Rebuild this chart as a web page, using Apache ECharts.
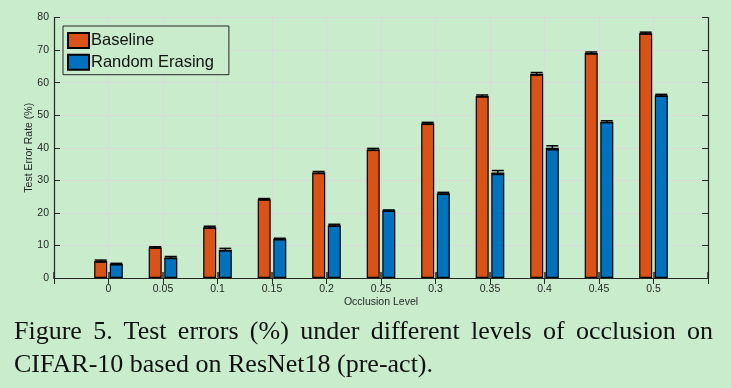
<!DOCTYPE html>
<html><head><meta charset="utf-8">
<script src="https://cdn.jsdelivr.net/npm/echarts@6/dist/echarts.min.js"></script>
<style>
html,body{margin:0;padding:0;background:#c9eccd;}
#c{width:731px;height:388px;position:absolute;left:0;top:0;}
#cap{position:absolute;left:14px;top:314px;width:699px;font-family:"Liberation Serif","DejaVu Serif",serif;font-size:26px;line-height:33px;color:#111;text-align:justify;}
</style></head>
<body>
<div id="c"></div>
<div id="cap">Figure 5. Test errors (%) under different levels of occlusion on CIFAR-10 based on ResNet18 (pre-act).</div>
<script>
const categories = ['0','0.05','0.1','0.15','0.2','0.25','0.3','0.35','0.4','0.45','0.5'];
const baseline = [5.2, 9.4, 15.6, 24.2, 32.4, 39.5, 47.5, 55.9, 62.7, 69.1, 75.2];
const baselineErr = [0.3, 0.2, 0.3, 0.2, 0.3, 0.3, 0.3, 0.3, 0.4, 0.3, 0.3];
const randomErasing = [4.3, 6.3, 8.7, 12.0, 16.2, 20.7, 26.0, 32.4, 40.0, 48.0, 56.1];
const randomErasingErr = [0.2, 0.3, 0.4, 0.2, 0.3, 0.2, 0.3, 0.6, 0.6, 0.3, 0.3];
const yTicks = [0,10,20,30,40,50,60,70,80];

const cats = [''].concat(categories).concat(['']);
const pad = a => ['-'].concat(a).concat(['-']);
const BW = 13, OFF = 7.8;
function errItem(off){
  return function(params, api){
    const i = api.value(0), v = api.value(1), e = api.value(2);
    const c = api.coord([i, v]);
    const hi = api.coord([i, v + e])[1], lo = api.coord([i, v - e])[1];
    const x = c[0] + off, hw = BW/2 - 0.5;
    const st = {stroke:'#000', lineWidth:1.5};
    return {type:'group', children:[
      {type:'line', shape:{x1:x,y1:hi,x2:x,y2:lo}, style:st},
      {type:'line', shape:{x1:x-hw,y1:hi,x2:x+hw,y2:hi}, style:st},
      {type:'line', shape:{x1:x-hw,y1:lo,x2:x+hw,y2:lo}, style:st}
    ]};
  };
}
const errData = (v, e) => v.map((y, k) => [k+1, y, e[k]]);
const chart = echarts.init(document.getElementById('c'), null, {renderer:'canvas'});
const axisLine = {show:true, lineStyle:{color:'#262626', width:1.2}};
const font = 'Liberation Sans, Arial, sans-serif';
chart.setOption({
  backgroundColor:'#c9eccd',
  animation:false,
  grid:{left:54, right:23, top:17.5, bottom:110},
  legend:{
    left:63, top:26, orient:'vertical', itemWidth:21, itemHeight:15, itemGap:4.7, icon:'rect',
    padding:[6,15,4,4], borderColor:'#262626', borderWidth:1, backgroundColor:'#c9eccd',
    textStyle:{fontFamily:font, fontSize:16.5, color:'#111', padding:[0,0,0,-3]},
    data:['Baseline','Random Erasing']
  },
  xAxis:[{
    type:'category', data:cats, boundaryGap:false,
    axisLine:axisLine, axisTick:{show:true, inside:true, length:6, lineStyle:{color:'#262626', width:1.5}},
    axisLabel:{fontFamily:font, fontSize:10.5, color:'#262626', margin:6, interval:0},
    splitLine:{show:true, lineStyle:{color:'#dadada', width:1}},
    name:'Occlusion Level', nameLocation:'middle', nameGap:19, nameMoveOverlap:false,
    nameTextStyle:{fontFamily:font, fontSize:10.5, color:'#262626'}
  },{
    type:'category', data:cats, boundaryGap:false, position:'top',
    axisLine:axisLine, axisTick:{show:true, inside:true, length:6, lineStyle:{color:'#262626'}},
    axisLabel:{show:false}, splitLine:{show:false}
  }],
  yAxis:[{
    type:'value', min:0, max:80, interval:10,
    axisLine:axisLine, axisTick:{show:true, inside:true, length:6, lineStyle:{color:'#262626'}},
    axisLabel:{fontFamily:font, fontSize:10.5, color:'#262626', margin:5},
    splitLine:{show:true, lineStyle:{color:'#dadada', width:1}},
    name:'Test Error Rate (%)', nameLocation:'middle', nameGap:19, nameMoveOverlap:false,
    nameTextStyle:{fontFamily:font, fontSize:10.5, color:'#262626'}
  },{
    type:'value', min:0, max:80, interval:10, position:'right',
    axisLine:axisLine, axisTick:{show:true, inside:true, length:6, lineStyle:{color:'#262626'}},
    axisLabel:{show:false}, splitLine:{show:false}
  }],
  series:[
    {name:'Baseline', type:'bar', data:pad(baseline), barWidth:BW, barGap:'20%',
     itemStyle:{color:'#d95319', borderColor:'#000', borderWidth:1.2}},
    {name:'Random Erasing', type:'bar', data:pad(randomErasing), barWidth:BW, barGap:'20%',
     itemStyle:{color:'#0072bd', borderColor:'#000', borderWidth:1.2}},
    {type:'custom', renderItem:errItem(-OFF), data:errData(baseline, baselineErr), z:10,
     encode:{x:0, y:1}},
    {type:'custom', renderItem:errItem(OFF), data:errData(randomErasing, randomErasingErr), z:10,
     encode:{x:0, y:1}}
  ]
});
</script>
</body></html>
